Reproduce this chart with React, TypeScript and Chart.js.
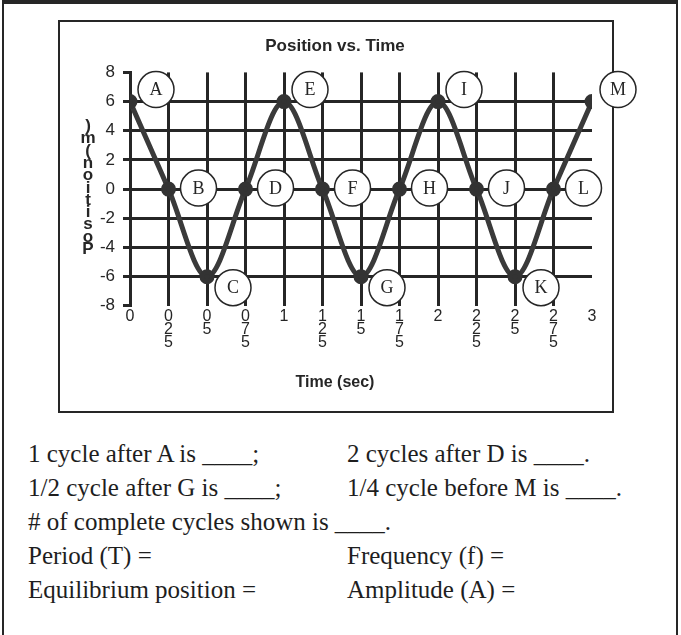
import React, { useEffect, useRef } from 'react';
import { Chart, registerables } from 'chart.js';

Chart.register(...registerables);

// Sampled positions of the oscillator, one point every quarter second
const times = [0, 0.25, 0.5, 0.75, 1, 1.25, 1.5, 1.75, 2, 2.25, 2.5, 2.75, 3];
const positions = [6, 0, -6, 0, 6, 0, -6, 0, 6, 0, -6, 0, 6];
const pointNames = ['A', 'B', 'C', 'D', 'E', 'F', 'G', 'H', 'I', 'J', 'K', 'L', 'M'];

const xMin = 0;
const xMax = 3;
const xStep = 0.25;
const yMin = -8;
const yMax = 8;
const yStep = 2;

const chartTitle = 'Position vs. Time';
const xAxisTitle = 'Time (sec)';
const yAxisTitle = 'Position (m)';

const questionRows = [
  ['1 cycle after A is ____;', '2 cycles after D is ____.'],
  ['1/2 cycle after G is ____;', '1/4 cycle before M is ____.'],
  ['# of complete cycles shown is ____.', ''],
  ['Period (T) =', 'Frequency (f) ='],
  ['Equilibrium position =', 'Amplitude (A) ='],
];

const INK = '#262626';
const SANS = 'Arial, "Liberation Sans", Helvetica, sans-serif';
const SERIF = '"Times New Roman", "Liberation Serif", serif';

// Canvas spans a little wider than the framed box so the outer circles can overlap its edge;
// equal side padding keeps the titles centred on the box.
const CANVAS_LEFT = 10;
const CANVAS_TOP = 22;
const CANVAS_W = 650;
const CANVAS_H = 388;
const SIDE_PAD = 68;

// Lettered circles next to each sampled point
const pointNamePlugin = {
  id: 'pointNames',
  afterDatasetsDraw(chart: any) {
    const meta = chart.getDatasetMeta(0);
    const ctx = chart.ctx;
    ctx.save();
    meta.data.forEach((pt: any, i: number) => {
      const v = positions[i];
      const dx = v === 0 ? 30 : 26;
      const dy = v > 0 ? -12 : v < 0 ? 11 : -1;
      const cx = pt.x + dx;
      const cy = pt.y + dy;
      ctx.beginPath();
      ctx.arc(cx, cy, 18, 0, Math.PI * 2);
      ctx.fillStyle = '#ffffff';
      ctx.fill();
      ctx.lineWidth = 1.5;
      ctx.strokeStyle = INK;
      ctx.stroke();
      ctx.fillStyle = INK;
      ctx.font = '18px ' + SERIF;
      ctx.textAlign = 'center';
      ctx.textBaseline = 'middle';
      ctx.fillText(pointNames[i], cx, cy + 1);
    });
    ctx.restore();
  },
};

// Vertical axis caption drawn as a column of upright characters
const stackedTitlePlugin = {
  id: 'stackedYTitle',
  afterDraw(chart: any) {
    const ctx = chart.ctx;
    const chars = yAxisTitle.replace(/\s/g, '').split('').reverse();
    const y0 = chart.chartArea.top + 54;
    ctx.save();
    ctx.fillStyle = INK;
    ctx.font = 'bold 17px ' + SANS;
    ctx.textAlign = 'center';
    ctx.textBaseline = 'middle';
    chars.forEach((c: string, i: number) => {
      ctx.fillText(c, 78, y0 + i * 12.3);
    });
    ctx.restore();
  },
};

function PositionChart() {
  const ref = useRef<HTMLCanvasElement | null>(null);

  useEffect(() => {
    if (!ref.current) return;
    const chart = new Chart(ref.current, {
      type: 'line',
      data: {
        datasets: [
          {
            data: times.map((t, i) => ({ x: t, y: positions[i] })),
            borderColor: '#3a3a3a',
            borderWidth: 5,
            pointRadius: 5,
            pointBackgroundColor: '#333333',
            pointBorderColor: '#333333',
            cubicInterpolationMode: 'monotone',
            fill: false,
          },
        ],
      },
      options: {
        animation: false,
        responsive: false,
        maintainAspectRatio: false,
        events: [],
        layout: { padding: { left: SIDE_PAD, right: SIDE_PAD, top: 0, bottom: 0 } },
        plugins: {
          legend: { display: false },
          tooltip: { enabled: false },
          title: {
            display: true,
            text: chartTitle,
            color: INK,
            font: { family: SANS, size: 17, weight: 'bold', lineHeight: 1.2 },
            padding: { top: 14, bottom: 16 },
          },
          subtitle: {
            display: true,
            position: 'bottom',
            text: xAxisTitle,
            color: INK,
            font: { family: SANS, size: 16, weight: 'bold', lineHeight: 1.2 },
            padding: { top: 0, bottom: 18 },
          },
        },
        scales: {
          x: {
            type: 'linear',
            min: xMin,
            max: xMax,
            ticks: {
              stepSize: xStep,
              autoSkip: false,
              maxRotation: 0,
              padding: 4,
              color: INK,
              font: { family: SANS, size: 16, lineHeight: 0.82 },
              callback: (v: any) => String(v).replace('.', '').split(''),
            },
            grid: {
              color: (c: any) =>
                c.tick && (c.tick.value === xMin || c.tick.value === xMax) ? 'rgba(0,0,0,0)' : INK,
              lineWidth: 3,
              drawTicks: false,
            },
            border: { display: false },
            afterFit: (s: any) => {
              s.height = 67;
            },
          },
          y: {
            min: yMin,
            max: yMax,
            ticks: {
              stepSize: yStep,
              padding: 8,
              color: INK,
              font: { family: SANS, size: 17 },
            },
            grid: {
              color: (c: any) =>
                c.tick && Math.abs(c.tick.value) === yMax ? 'rgba(0,0,0,0)' : INK,
              lineWidth: 3,
              tickLength: 7,
              tickColor: INK,
              tickWidth: 3,
            },
            border: { display: true, color: INK, width: 3 },
            afterFit: (s: any) => {
              s.width = 120 - SIDE_PAD;
            },
          },
        },
      },
      plugins: [pointNamePlugin, stackedTitlePlugin],
    } as any);
    return () => chart.destroy();
  }, []);

  return (
    <canvas
      ref={ref}
      width={CANVAS_W}
      height={CANVAS_H}
      style={{
        position: 'absolute',
        left: CANVAS_LEFT,
        top: CANVAS_TOP,
        width: CANVAS_W,
        height: CANVAS_H,
      }}
    />
  );
}

export default function App() {
  const rowCenters = [455, 489, 523, 557, 591];
  const textStyle = {
    position: 'absolute' as const,
    lineHeight: '30px',
    fontFamily: SERIF,
    fontSize: 25,
    color: '#1e1e1e',
    whiteSpace: 'pre' as const,
  };
  return (
    <div
      style={{
        position: 'absolute',
        left: 0,
        top: 0,
        width: 681,
        height: 635,
        overflow: 'hidden',
        background: '#ffffff',
      }}
    >
      <div
        style={{
          position: 'absolute',
          left: 2,
          top: 0,
          width: 676,
          height: 700,
          boxSizing: 'border-box',
          borderTop: `4px solid ${INK}`,
          borderLeft: `2px solid ${INK}`,
          borderRight: `2px solid ${INK}`,
        }}
      />
      <div
        style={{
          position: 'absolute',
          left: 58,
          top: 20,
          width: 556,
          height: 393,
          boxSizing: 'border-box',
          border: `2px solid ${INK}`,
        }}
      />
      <PositionChart />
      {questionRows.map((row, i) => (
        <React.Fragment key={i}>
          <div style={{ ...textStyle, left: 28, top: rowCenters[i] - 16 }}>{row[0]}</div>
          {row[1] ? (
            <div style={{ ...textStyle, left: 347, top: rowCenters[i] - 16 }}>{row[1]}</div>
          ) : null}
        </React.Fragment>
      ))}
    </div>
  );
}
